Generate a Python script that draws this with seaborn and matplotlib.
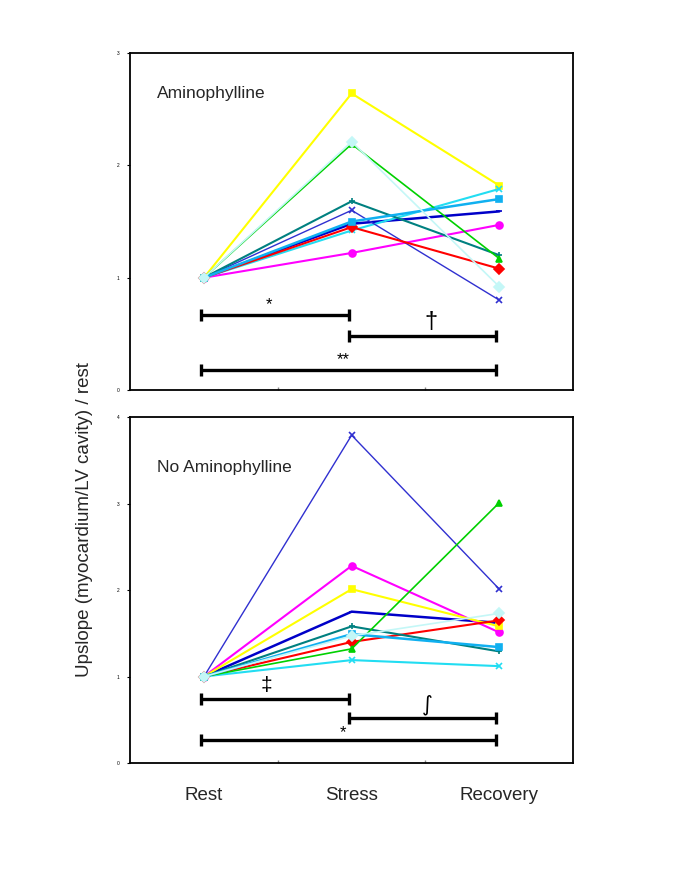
import numpy as np
import pandas as pd
import matplotlib
matplotlib.use("Agg")
import matplotlib.pyplot as plt
import seaborn as sns

sns.set_style("white")
plt.rcParams["font.family"] = ["Liberation Sans", "DejaVu Sans"]

# ---------------- data ----------------
phases = ["Rest", "Stress", "Recovery"]
series = ["navy", "magenta", "yellow", "cyan", "blue",
          "red", "teal", "green", "skyblue", "pale"]

amino_stress = [1.48, 1.22, 2.64, 1.42, 1.60, 1.45, 1.68, 2.19, 1.50, 2.21]
amino_recovery = [1.59, 1.47, 1.82, 1.79, 0.80, 1.08, 1.20, 1.17, 1.70, 0.92]

noamino_stress = [1.75, 2.28, 2.01, 1.19, 3.79, 1.40, 1.58, 1.32, 1.49, 1.47]
noamino_recovery = [1.62, 1.51, 1.58, 1.12, 2.01, 1.65, 1.29, 3.01, 1.34, 1.73]

rest_value = 1.0

panel_titles = ["Aminophylline", "No Aminophylline"]
y_max = [3, 4]

# significance bars: (start phase, end phase, y level, label)
amino_sig = [(0, 1, 0.67, "*"), (1, 2, 0.48, "\u2020"), (0, 2, 0.18, "**")]
noamino_sig = [(0, 1, 0.74, "\u2021"), (1, 2, 0.52, "\u222b"), (0, 2, 0.27, "*")]

# ---------------- styles ----------------
colors = {"navy": "#0000C8", "magenta": "#FF00FF", "yellow": "#FFFF00",
          "cyan": "#22DDF2", "blue": "#3030D0", "red": "#FF0000",
          "teal": "#008080", "green": "#00D000", "skyblue": "#10B0F0",
          "pale": "#C4F7F7"}
markers = {"navy": "_", "magenta": "o", "yellow": "s", "cyan": "x",
           "blue": "x", "red": "D", "teal": "+", "green": "^",
           "skyblue": "s", "pale": "D"}
widths = {"navy": 1.8, "magenta": 1.5, "yellow": 1.5, "cyan": 1.5,
          "blue": 1.0, "red": 1.5, "teal": 1.5, "green": 1.2,
          "skyblue": 1.8, "pale": 1.2}
# label offsets (x shift, y shift, fontsize)
label_style = {"*": (-0.04, 0.0, 12), "**": (-0.04, 0.0, 12),
               "\u2020": (0.06, 0.03, 17), "\u2021": (-0.06, 0.05, 15),
               "\u222b": (0.03, 0.04, 15)}


def make_df(stress, recovery):
    rows = []
    for s, st, rc in zip(series, stress, recovery):
        for i, v in enumerate([rest_value, st, rc]):
            rows.append({"series": s, "phase": phases[i], "pos": i + 0.5, "value": v})
    return pd.DataFrame(rows)


dfs = [make_df(amino_stress, amino_recovery), make_df(noamino_stress, noamino_recovery)]
sigs = [amino_sig, noamino_sig]

fig = plt.figure(figsize=(6.85, 8.86), dpi=100)
ax_top = fig.add_axes([0.190, 0.5598, 0.6467, 0.3804])
ax_bot = fig.add_axes([0.190, 0.1388, 0.6467, 0.3905])
axes = [ax_top, ax_bot]

for k, ax in enumerate(axes):
    df = dfs[k]
    for s in series:
        sub = df[df["series"] == s]
        sns.lineplot(data=sub, x="pos", y="value", ax=ax, color=colors[s],
                     marker=markers[s], markersize=5, markeredgecolor=colors[s],
                     markeredgewidth=1.2, linewidth=widths[s], legend=False)
    # significance bars
    h = 6 / (ax.get_position().height * 886) * y_max[k]
    for a, b, yv, lab in sigs[k]:
        x0, x1 = a + 0.48, b + 0.48
        ax.plot([x0, x1], [yv, yv], color="black", lw=2.4, solid_capstyle="butt")
        ax.vlines([x0, x1], yv - h, yv + h, color="black", lw=2.4)
        dx, dy, fs = label_style[lab]
        fam = ["DejaVu Sans"] if lab == "\u222b" else ["Liberation Sans", "DejaVu Sans"]
        ax.text((x0 + x1) / 2 + dx, yv + dy + (0.02 if lab.startswith("*") and k == 0 else 0),
                lab, ha="center", va="bottom", fontsize=fs, color="black", family=fam)

    ax.set_xlim(0, 3)
    ax.set_ylim(0, y_max[k])
    ax.set_yticks(np.arange(0, y_max[k] + 1))
    ax.set_yticklabels([str(v) for v in range(0, y_max[k] + 1)], fontsize=3.5)
    ax.set_xticks([1, 2])
    ax.set_xticklabels(["", ""])
    ax.tick_params(axis="y", direction="out", length=2.5, width=0.8, pad=5,
                   left=True, colors="black")
    ax.tick_params(axis="x", direction="in", length=2.5, width=1, bottom=True,
                   color="#888888")
    ax.set_xlabel("")
    ax.set_ylabel("")
    for sp in ax.spines.values():
        sp.set_visible(True)
        sp.set_color("black")
        sp.set_linewidth(1.3)
    ax.text(0.06, 0.88 if k == 0 else 0.855, panel_titles[k],
            transform=ax.transAxes, fontsize=12.5, ha="left", va="center")

# category labels under the bottom panel
for i, p in enumerate(phases):
    fig.text((130 + (i + 0.5) * 147.7) / 685, 1 - 795 / 886, p,
             ha="center", va="center", fontsize=13.5)

fig.text(85 / 685, 1 - 520 / 886, "Upslope (myocardium/LV cavity) / rest",
         rotation=90, ha="center", va="center", fontsize=13.5)

fig.savefig("out.png", dpi=100, facecolor="white")
